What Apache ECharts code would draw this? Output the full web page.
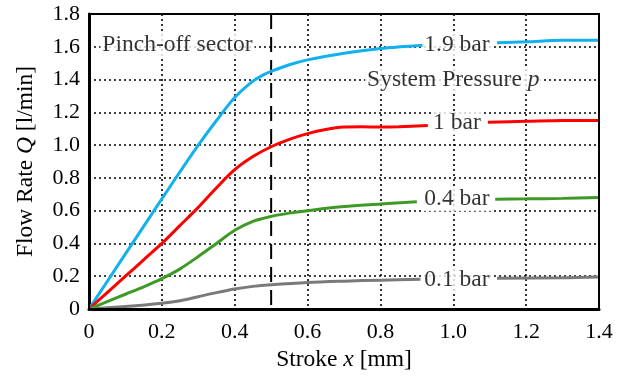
<!DOCTYPE html>
<html><head><meta charset="utf-8">
<script src="https://cdn.jsdelivr.net/npm/echarts@6/dist/echarts.min.js"></script>
<style>html,body{margin:0;padding:0;background:#fff}#c{width:628px;height:379px}</style>
</head><body><div id="c"></div>
<script>
var xTicks = [0, 0.2, 0.4, 0.6, 0.8, 1.0, 1.2, 1.4];
var yTicks = [0, 0.2, 0.4, 0.6, 0.8, 1.0, 1.2, 1.4, 1.6, 1.8];

var p19x = [0, 0.05, 0.1, 0.15, 0.2, 0.25, 0.3, 0.35, 0.4, 0.45, 0.48, 0.5, 0.55, 0.6, 0.7, 0.8, 0.92, 1.0, 1.12, 1.2, 1.3, 1.4];
var p19y = [0, 0.168, 0.336, 0.504, 0.672, 0.838, 1.0, 1.15, 1.29, 1.39, 1.43, 1.45, 1.49, 1.52, 1.56, 1.59, 1.61, null, 1.625, 1.63, 1.64, 1.64];

var p10x = [0, 0.05, 0.1, 0.15, 0.2, 0.25, 0.3, 0.35, 0.4, 0.45, 0.5, 0.55, 0.6, 0.65, 0.7, 0.75, 0.8, 0.85, 0.93, 1.0, 1.095, 1.2, 1.3, 1.4];
var p10y = [0, 0.1, 0.2, 0.3, 0.4, 0.51, 0.62, 0.74, 0.85, 0.93, 0.99, 1.035, 1.07, 1.095, 1.11, 1.112, 1.11, 1.112, 1.12, null, 1.14, 1.145, 1.15, 1.15];

var p04x = [0, 0.05, 0.1, 0.15, 0.2, 0.25, 0.3, 0.35, 0.4, 0.45, 0.5, 0.55, 0.6, 0.7, 0.8, 0.9, 1.0, 1.115, 1.2, 1.3, 1.4];
var p04y = [0, 0.045, 0.09, 0.135, 0.185, 0.245, 0.32, 0.4, 0.48, 0.535, 0.565, 0.585, 0.6, 0.625, 0.64, 0.655, null, 0.67, 0.672, 0.675, 0.68];

var p01x = [0, 0.1, 0.2, 0.25, 0.3, 0.35, 0.4, 0.45, 0.5, 0.6, 0.7, 0.8, 0.91, 1.0, 1.12, 1.3, 1.4];
var p01y = [0, 0.015, 0.035, 0.05, 0.075, 0.1, 0.122, 0.138, 0.148, 0.162, 0.17, 0.176, 0.182, null, 0.188, 0.19, 0.195];

var pinchX = 0.5;
var labelTexts = ['1.9 bar', '1 bar', '0.4 bar', '0.1 bar', 'System Pressure {i|p}', 'Pinch-off sector'];
var labelX = [1.01, 1.01, 1.01, 1.01, 1.0, 0.243];
var labelY = [1.61, 1.135, 0.67, 0.177, 1.40, 1.61];

function zip(xs, ys) { return xs.map(function (x, i) { return [x, ys[i]]; }); }
var FONT = 'Liberation Serif';
var TS = 23.5, TK = 22;
var rich = { i: { fontStyle: 'italic', fontFamily: FONT, fontSize: TS, color: '#000' } };

function lineSeries(name, xs, ys, color) {
  return {
    name: name, type: 'line', data: zip(xs, ys), smooth: 0.3, connectNulls: false,
    showSymbol: false, symbol: 'none', z: 3,
    lineStyle: { color: color, width: 3 }
  };
}

var chart = echarts.init(document.getElementById('c'), null, { renderer: 'canvas' });
chart.setOption({
  animation: false,
  backgroundColor: '#fff',
  grid: { left: 89, right: 29, top: 14, bottom: 70, show: true, borderColor: '#000', borderWidth: 2, z: 10 },
  xAxis: {
    type: 'value', min: xTicks[0], max: xTicks[xTicks.length - 1], interval: 0.2,
    name: 'Stroke {i|x} [mm]', nameLocation: 'middle', nameGap: 39,
    nameTextStyle: { fontFamily: FONT, fontSize: TS, color: '#000', rich: rich },
    axisLine: { show: true, lineStyle: { color: '#000', width: 3 } },
    axisTick: { show: false },
    axisLabel: { fontFamily: FONT, fontSize: TK, color: '#000', margin: 12,
      formatter: function (v) { return v === 0 ? '0' : v.toFixed(1); } },
    splitLine: { show: true, lineStyle: { color: '#000', width: 1.6, type: [2, 3] } }
  },
  yAxis: {
    type: 'value', min: yTicks[0], max: yTicks[yTicks.length - 1], interval: 0.2,
    name: 'Flow Rate {i|Q} [l/min]', nameLocation: 'middle', nameGap: 51, nameRotate: 90,
    nameTextStyle: { fontFamily: FONT, fontSize: TS, color: '#000', rich: rich },
    axisLine: { show: true, lineStyle: { color: '#000', width: 3 } },
    axisTick: { show: false },
    axisLabel: { fontFamily: FONT, fontSize: TK, color: '#000', margin: 9,
      formatter: function (v) { return v === 0 ? '0' : v.toFixed(1); } },
    splitLine: { show: true, lineStyle: { color: '#000', width: 1.6, type: [2, 3] } }
  },
  series: [
    {
      type: 'line', data: [[pinchX, yTicks[yTicks.length - 1]], [pinchX, yTicks[0]]],
      symbol: 'none', z: 2,
      lineStyle: { color: '#000', width: 2, type: [15, 8] }
    },
    lineSeries('1.9 bar', p19x, p19y, '#12B0EC'),
    lineSeries('1 bar', p10x, p10y, '#FF0000'),
    lineSeries('0.4 bar', p04x, p04y, '#3F9A25'),
    lineSeries('0.1 bar', p01x, p01y, '#7A7A7A'),
    {
      type: 'scatter', symbolSize: 0, z: 5,
      data: labelTexts.map(function (t, i) { return { value: [labelX[i], labelY[i]], text: t }; }),
      label: {
        show: true, position: 'inside',
        formatter: function (p) { return p.data.text; },
        fontFamily: FONT, fontSize: TS, color: '#000',
        backgroundColor: '#fff', padding: [0, 2],
        rich: { i: { fontStyle: 'italic', fontFamily: FONT, fontSize: TS, color: '#000', backgroundColor: '#fff' } }
      }
    }
  ]
});
</script></body></html>
